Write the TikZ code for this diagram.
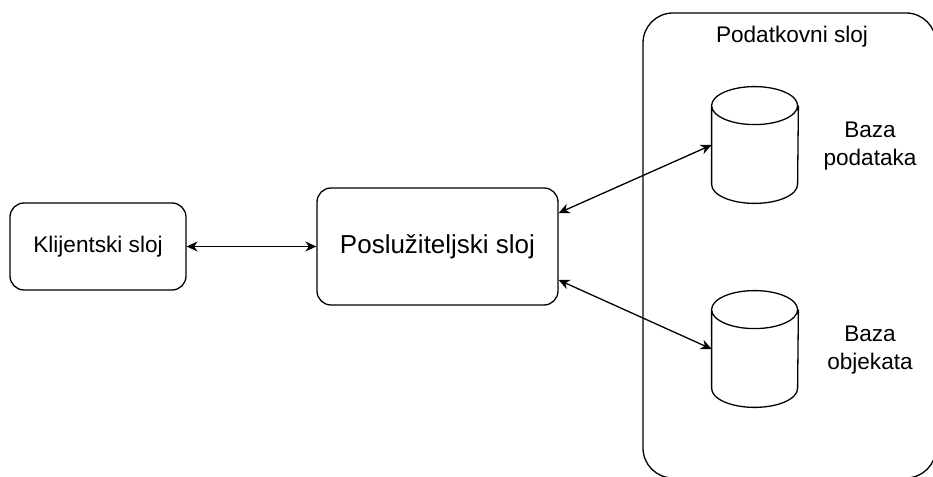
\documentclass[tikz,border=0pt]{standalone}
\usepackage{fontspec}
\setmainfont{Liberation Sans}
\usetikzlibrary{arrows.meta,calc}

\begin{document}
\begin{tikzpicture}[
    x=0.5pt, y=0.5pt,
    sloj/.style={
        rectangle,
        rounded corners=7pt,
        draw=black,
        line width=0.65pt,
        font=\fontsize{11.3}{14}\selectfont,
        align=center
    },
    baza/.style={
        rectangle,
        minimum width=43pt,
        minimum height=58pt,
        inner sep=0pt
    },
    obris/.style={
        draw=black,
        line width=0.65pt,
        x radius=21.5pt,
        y radius=9.5pt
    },
    natpis/.style={
        font=\fontsize{11.3}{14}\selectfont,
        align=center
    },
    veza/.style={
        {Stealth[length=5.5pt,width=5pt]}-{Stealth[length=5.5pt,width=5pt]},
        line width=0.65pt
    }
]
    \useasboundingbox (0,0) rectangle (933,477);

    % spremnik podatkovnog sloja
    \node[sloj, rounded corners=15pt, minimum width=146.5pt, minimum height=232.5pt] (podsloj) at (789.5, 231.5) {};
    \node[natpis] (naslov) at (792, 440) {Podatkovni sloj};

    % klijent i posluzitelj
    \node[sloj, minimum width=88pt, minimum height=43.5pt] (klijent) at (98, 230.5) {Klijentski sloj};
    \node[sloj, minimum width=120.5pt, minimum height=58.5pt, font=\fontsize{13}{16}\selectfont] (server) at (437.5, 230.5) {Poslužiteljski sloj};

    % baze
    \node[baza] (bpod) at (755, 332) {};
    \node[baza] (bobj) at (755, 128) {};
    \draw[obris] ($(bpod.north west)+(0,-19)$) arc[start angle=180, end angle=360]
        arc[start angle=0, end angle=180] -- ($(bpod.south west)+(0,19)$)
        arc[start angle=180, end angle=360] -- ($(bpod.north east)+(0,-19)$);
    \draw[obris] ($(bobj.north west)+(0,-19)$) arc[start angle=180, end angle=360]
        arc[start angle=0, end angle=180] -- ($(bobj.south west)+(0,19)$)
        arc[start angle=180, end angle=360] -- ($(bobj.north east)+(0,-19)$);
    \node[natpis] (lpod) at (870, 331) {Baza\\podataka};
    \node[natpis] (lobj) at (870, 127) {Baza\\objekata};

    % veze
    \draw[veza] (klijent.east) -- (server.west);
    \draw[veza] ($(server.east)+(0,33.5)$) -- (bpod.west);
    \draw[veza] ($(server.east)+(0,-33.5)$) -- (bobj.west);

\end{tikzpicture}
\end{document}
